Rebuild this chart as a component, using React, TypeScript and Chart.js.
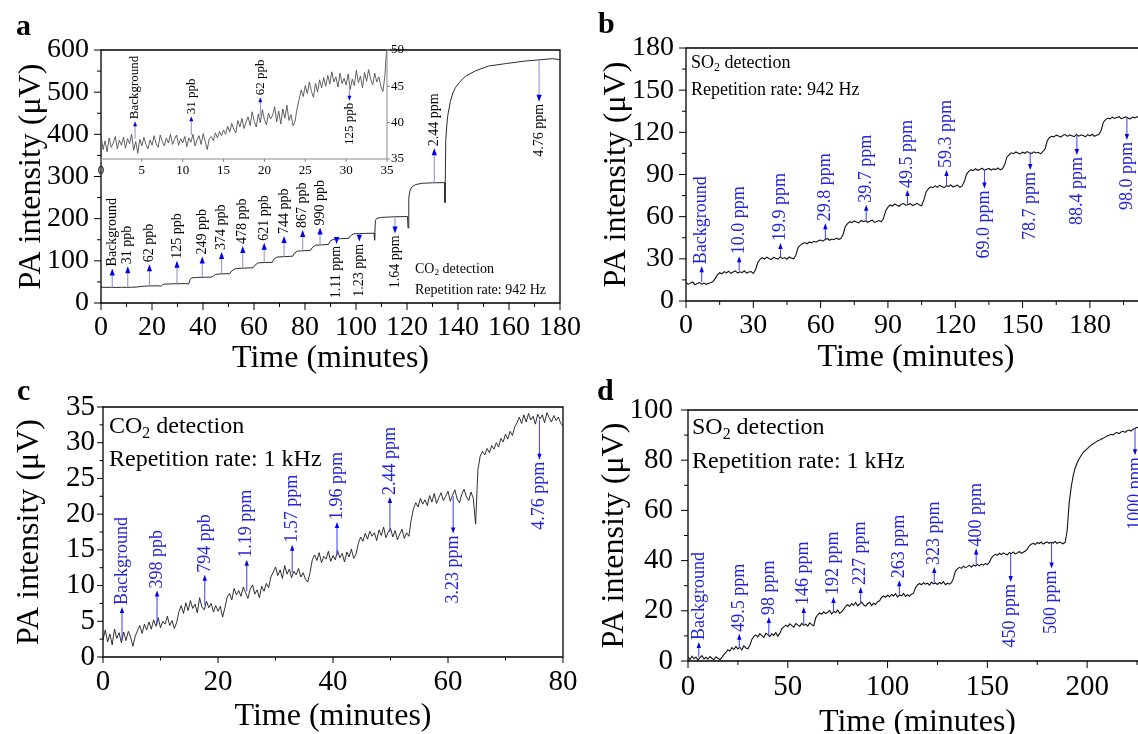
import React, { useEffect, useRef } from 'react';
import { Chart, registerables } from 'chart.js';

Chart.register(...registerables);

const FONT = '"Liberation Serif", "Times New Roman", Times, serif';
Chart.defaults.font.family = FONT;

// ================= DATA =================
// Panel a: CO2 detection, 942 Hz (time in minutes, PA intensity in µV)
const A_TIME = [0, 2, 4, 6, 8, 10, 12, 14, 16, 18, 20, 22, 23.6, 24.2, 25, 27, 29, 31, 33, 34.4, 34.9, 35.5, 37, 40, 43.5, 44.2, 45, 47, 50.5, 51.2, 52.5, 55, 59.6, 60.3, 61.5, 64, 67.2, 67.8, 69, 72, 75.2, 75.8, 77, 80, 82.2, 82.8, 84, 87, 89.2, 89.8, 91, 94, 97.2, 97.8, 99, 103, 107.1, 107.3, 107.6, 108.2, 110, 115, 120.2, 120.4, 120.7, 121.2, 122, 123.5, 126, 130, 134.7, 134.9, 135.2, 135.6, 136, 137, 138, 139, 140.5, 143, 147, 152, 159, 166.6, 174.5, 177, 180];
const A_SIGNAL = [37.5, 37, 37.2, 36.8, 37.3, 37, 37.4, 37.8, 39.5, 40.3, 40.6, 40.8, 40, 43.5, 44.8, 45.2, 45.6, 45.8, 46, 45, 55, 59.5, 60.5, 61, 61.5, 65, 68, 69, 69.5, 76, 81, 82.5, 83.5, 89, 95, 96, 96.5, 104, 109, 110, 111, 118, 123, 124, 125, 131, 137, 138, 139, 146, 151, 152.5, 153.5, 159, 164, 165, 165.5, 149, 196, 201, 203, 204.5, 205, 178, 250, 267, 276, 281, 284, 285, 285.5, 238, 385, 420, 445, 478, 498, 511, 523, 538, 551, 562, 568, 574, 578, 579.5, 577];
const A_X_TICKS = [0, 20, 40, 60, 80, 100, 120, 140, 160, 180];
const A_X_MINOR = [10, 30, 50, 70, 90, 110, 130, 150, 170];
const A_Y_TICKS = [0, 100, 200, 300, 400, 500, 600];
const A_Y_MINOR = [50, 150, 250, 350, 450, 550];
const A_ANN_TIME = [4.4, 10.5, 19, 29.8, 39.7, 47.3, 55.6, 64, 71.8, 79.1, 85.9, 92.4, 101.3, 115.3, 130.7, 171.8];
const A_ANN_FROM = [37, 37, 40, 45.5, 61, 69, 82.5, 96, 110, 124, 138, 152, 165, 204, 285, 577];
const A_ANN_TIP = [82, 87, 92, 100, 110, 121, 135, 143, 159, 173, 179, 140, 145, 165, 367, 477];
const A_ANN_LABEL = ['Background', '31 ppb', '62 ppb', '125 ppb', '249 ppb', '374 ppb', '478 ppb', '621 ppb', '744 ppb', '867 ppb', '990 ppb', '1.11 ppm', '1.23 ppm', '1.64 ppm', '2.44 ppm', '4.76 ppm'];

// Panel a inset: first 35 minutes (sampled every 0.25 min)
const INSET_T0 = 0;
const INSET_DT = 0.25;
const INSET_SIGNAL = [
  38.2, 36.3, 37.5, 36.0, 37.9, 36.6, 37.2, 38.1, 36.4, 37.6, 36.9, 38.0,
  36.5, 37.8, 37.1, 38.4, 36.2, 37.4, 35.8, 37.7, 36.8, 38.0, 37.0, 36.4,
  37.6, 36.9, 38.2, 37.1, 36.6, 38.3, 37.4, 36.8, 37.9, 37.2, 38.4, 37.0,
  37.7, 38.3, 36.9, 37.8, 37.2, 38.1, 36.7, 37.9, 37.3, 38.4, 36.8, 37.6,
  38.2, 37.0, 38.5, 37.4, 36.3, 37.8, 38.1, 37.5, 38.6, 37.9, 38.8, 38.2,
  39.0, 38.4, 39.5, 38.7, 39.9, 39.1, 38.6, 40.3, 39.4, 40.6, 39.2, 40.1,
  40.8, 39.6, 41.5, 40.2, 39.4, 41.2, 40.0, 41.8, 40.4, 39.7, 41.3, 40.5,
  41.0, 42.2, 40.1, 41.6, 39.8, 41.9, 40.6, 42.4, 40.3, 41.1, 39.6, 40.2,
  42.0, 43.2, 44.5, 43.6, 45.1, 44.0, 45.6, 44.3, 43.5, 45.4, 44.2, 45.9,
  44.8, 46.2, 45.0, 46.5, 45.3, 47.0, 45.6, 46.3, 44.9, 46.8, 45.4, 46.1,
  45.2, 46.7, 44.6, 46.0, 45.1, 47.2, 45.5, 46.4, 44.8, 46.9, 45.7, 47.3,
  46.0, 45.2, 46.8, 45.6, 46.3, 45.0, 44.3, 46.5, 51.0,
];
const INSET_X_TICKS = [0, 5, 10, 15, 20, 25, 30, 35];
const INSET_Y_TICKS = [35, 40, 45, 50];
const INSET_ANN_TIME = [4.17, 11.05, 19.5, 30.4];
const INSET_ANN_FROM = [37.8, 38.3, 41.0, 45.3];
const INSET_ANN_TIP = [40.2, 40.9, 43.5, 43.0];
const INSET_ANN_LABEL = ['Background', '31 ppb', '62 ppb', '125 ppb'];

// Panel b: SO2 detection, 942 Hz (sampled every 1 min)
const B_T0 = 0;
const B_DT = 1;
const B_SIGNAL = [
  13.2, 11.8, 12.9, 13.5, 11.6, 12.4, 13.1, 12.0, 12.8, 11.9,
  12.6, 13.0, 13.8, 15.9, 18.6, 20.1, 19.4, 20.9, 20.0, 21.2,
  19.7, 20.6, 21.4, 19.9, 20.8, 20.2, 21.5, 19.8, 20.7, 21.0,
  19.6, 22.3, 27.4, 29.6, 30.8, 29.9, 31.2, 30.3, 29.5, 31.0,
  30.4, 29.8, 31.5, 30.1, 30.9, 29.7, 31.3, 30.5, 30.0, 32.8,
  38.2, 39.8, 40.9, 41.6, 40.7, 42.0, 41.3, 42.5, 41.8, 42.9,
  43.4, 42.6, 43.8, 44.5, 43.2, 44.1, 43.6, 44.8, 43.9, 44.4,
  47.3, 53.0, 55.1, 56.4, 55.8, 57.0, 56.2, 55.6, 57.3, 56.5,
  57.1, 56.0, 56.8, 57.5, 55.9, 56.6, 57.2, 56.3, 58.6, 64.2,
  66.8, 68.3, 67.6, 69.0, 68.1, 67.4, 68.8, 69.3, 68.0, 68.6,
  69.2, 67.9, 68.7, 69.5, 68.3, 67.8, 71.9, 77.6, 79.8, 81.2,
  80.6, 81.9, 80.9, 82.3, 81.4, 80.7, 82.0, 81.6, 82.6, 81.1,
  81.8, 82.4, 80.9, 81.7, 84.8, 90.1, 92.2, 93.4, 92.8, 94.1,
  93.0, 93.7, 94.5, 92.9, 93.8, 94.3, 93.2, 94.0, 93.5, 94.6,
  93.3, 94.1, 96.9, 102.3, 104.1, 105.4, 104.8, 106.0, 105.2, 104.6,
  105.9, 105.1, 106.3, 105.5, 104.9, 106.1, 105.3, 105.8, 104.7, 106.2,
  108.2, 114.0, 116.3, 117.2, 116.8, 118.0, 117.4, 116.6, 117.9, 118.4,
  117.1, 118.2, 117.6, 116.9, 118.5, 117.3, 118.1, 117.7, 116.8, 118.3,
  117.5, 118.6, 117.2, 117.9, 118.4, 121.3, 127.2, 129.1, 130.2, 129.6,
  130.8, 129.9, 130.5, 131.1, 129.7, 130.4, 131.0, 130.1, 129.5, 130.9,
  130.3, 131.2, 129.8, 130.6, 130.0, 130.7,
];
const B_X_TICKS = [0, 30, 60, 90, 120, 150, 180];
const B_X_MINOR = [15, 45, 75, 105, 135, 165, 195];
const B_Y_TICKS = [0, 30, 60, 90, 120, 150, 180];
const B_Y_MINOR = [15, 45, 75, 105, 135, 165];
const B_ANN_TIME = [7.0, 23.7, 42.1, 62.1, 80.3, 98.7, 116.1, 133, 153.4, 174.2, 196.5];
const B_ANN_FROM = [13.5, 21.5, 31.5, 44, 57, 69, 82, 93.5, 105.5, 117.5, 130];
const B_ANN_TIP = [24.7, 31.8, 41.2, 55.4, 68.4, 79, 93.2, 80, 93.2, 103.8, 114.5];
const B_ANN_LABEL = ['Background', '10.0 ppm', '19.9 ppm', '29.8 ppm', '39.7 ppm', '49.5 ppm', '59.3 ppm', '69.0 ppm', '78.7 ppm', '88.4 ppm', '98.0 ppm'];

// Panel c: CO2 detection, 1 kHz (sampled every 0.4 min)
const C_T0 = 0;
const C_DT = 0.4;
const C_SIGNAL = [
  2.4, 3.8, 2.1, 3.2, 1.7, 3.9, 2.6, 3.4, 2.0, 3.5,
  2.3, 3.6, 2.8, 1.5, 2.9, 3.7, 4.4, 3.3, 4.6, 3.8,
  4.9, 3.9, 5.2, 4.3, 5.5, 4.1, 5.0, 4.6, 5.7, 4.4,
  5.1, 4.0, 4.8, 6.3, 7.2, 6.1, 7.6, 6.5, 7.9, 6.8,
  7.4, 6.2, 8.3, 7.0, 6.6, 7.8, 6.9, 7.5, 6.3, 7.2,
  6.4, 7.1, 5.6, 6.9, 8.4, 8.9, 8.0, 9.6, 8.7, 9.3,
  8.5, 9.8, 9.0, 8.2, 9.5, 10.1, 8.8, 9.4, 8.3, 9.9,
  9.2, 10.3, 9.7, 11.2, 11.9, 12.6, 11.4, 12.2, 11.0, 12.8,
  11.6, 12.3, 11.1, 12.0, 11.5, 12.4, 11.2, 11.8, 10.9, 10.5,
  11.8, 13.6, 14.3, 13.5, 14.6, 13.2, 14.1, 13.7, 14.8, 13.4,
  14.2, 13.6, 14.9, 13.9, 14.5, 13.3, 14.7, 14.0, 15.1, 13.8,
  14.4, 15.9, 16.8, 16.2, 17.3, 16.5, 17.6, 16.9, 17.4, 16.3,
  17.8, 17.0, 18.2, 16.7, 17.5, 18.0, 16.8, 17.7, 16.4, 17.2,
  17.9, 16.6, 17.4, 16.9, 19.2, 20.8, 21.6, 21.0, 22.2, 21.4,
  22.0, 21.2, 22.6, 21.7, 22.9, 21.5, 22.3, 23.0, 21.9, 22.5,
  23.2, 21.8, 22.7, 23.4, 22.1, 21.6, 22.8, 23.5, 22.4, 21.9,
  23.1, 22.2, 18.6, 26.2, 28.1, 28.8, 28.3, 29.2, 28.6, 29.6,
  29.1, 30.0, 29.4, 30.6, 30.1, 31.2, 30.5, 31.6, 31.0, 32.2,
  32.8, 33.6, 32.7, 33.9, 32.9, 34.1, 33.2, 33.7, 32.6, 34.0,
  33.3, 33.9, 32.8, 34.2, 33.5, 32.9, 33.8, 33.1, 33.6, 32.7, 32.4,
];
const C_X_TICKS = [0, 20, 40, 60, 80];
const C_X_MINOR = [10, 30, 50, 70];
const C_Y_TICKS = [0, 5, 10, 15, 20, 25, 30, 35];
const C_Y_MINOR = [2.5, 7.5, 12.5, 17.5, 22.5, 27.5, 32.5];
const C_ANN_TIME = [3.3, 9.4, 17.7, 25.0, 32.9, 40.7, 49.9, 60.9, 75.9];
const C_ANN_FROM = [2.3, 4.5, 7.3, 9.2, 11.8, 14.2, 17.5, 22.5, 33.2];
const C_ANN_TIP = [7.0, 9.3, 11.5, 13.6, 15.7, 18.9, 22.4, 17.3, 27.6];
const C_ANN_LABEL = ['Background', '398 ppb', '794 ppb', '1.19 ppm', '1.57 ppm', '1.96 ppm', '2.44 ppm', '3.23 ppm', '4.76 ppm'];

// Panel d: SO2 detection, 1 kHz (sampled every 1 min)
const D_T0 = 0;
const D_DT = 1;
const D_SIGNAL = [
  1.4, 0.6, 1.9, 0.9, 1.6, 0.4, 1.3, 2.1, 0.8, 1.5,
  0.7, 1.8, 1.1, 0.5, 1.7, 1.0, 0.6, 1.4, 2.6, 3.4,
  4.5, 4.0, 5.3, 4.6, 5.8, 4.8, 5.5, 4.4, 6.1, 5.2,
  4.9, 6.3, 8.6, 9.8, 10.4, 9.6, 10.9, 10.1, 9.4, 11.0,
  10.5, 9.7, 10.8, 10.2, 11.3, 9.9, 11.0, 12.8, 13.6, 14.3,
  13.7, 14.8, 14.1, 13.5, 14.9, 14.4, 13.8, 15.0, 14.2, 14.7,
  13.9, 15.2, 14.5, 14.0, 17.2, 18.4, 19.1, 18.6, 19.6, 18.9,
  19.4, 20.1, 18.7, 19.8, 19.2, 20.3, 19.0, 19.7, 20.6, 21.8,
  22.4, 21.7, 22.9, 22.2, 23.3, 22.0, 22.7, 23.5, 22.3, 21.9,
  22.8, 23.4, 22.1, 23.0, 22.5, 23.6, 24.0, 25.3, 25.9, 25.4,
  26.2, 25.6, 26.5, 25.9, 26.8, 25.5, 26.3, 26.0, 26.9, 25.7,
  26.4, 25.8, 26.6, 27.0, 29.2, 30.3, 30.9, 30.4, 31.2, 30.6,
  31.0, 30.2, 31.4, 30.7, 31.1, 30.5, 31.3, 30.8, 31.6, 30.4,
  31.0, 30.6, 31.2, 32.9, 35.8, 36.7, 37.3, 36.9, 37.8, 37.2,
  37.6, 38.1, 37.4, 38.3, 37.8, 38.5, 37.9, 38.6, 38.2, 38.8,
  38.4, 39.3, 41.0, 41.9, 42.5, 42.1, 42.9, 42.4, 43.1, 42.6,
  42.3, 43.2, 42.8, 43.4, 42.7, 43.0, 43.6, 42.9, 43.3, 43.8,
  44.6, 45.9, 46.5, 46.9, 46.4, 47.2, 46.8, 47.4, 46.6, 47.1,
  47.5, 46.9, 47.3, 47.0, 47.6, 46.8, 47.4, 47.1, 46.7, 47.3,
  52.0, 63.0, 69.2, 73.8, 76.9, 79.0, 80.6, 81.9, 83.0, 83.8,
  84.5, 85.3, 85.9, 86.6, 87.0, 87.6, 87.9, 88.4, 88.7, 89.2,
  89.6, 89.9, 90.3, 90.1, 90.7, 91.0, 90.6, 91.2, 91.5, 91.1,
  91.7, 92.0, 91.6, 92.3, 92.6, 93.1, 92.8, 93.4, 93.0,
];
const D_X_TICKS = [0, 50, 100, 150, 200];
const D_X_MINOR = [25, 75, 125, 175, 225];
const D_Y_TICKS = [0, 20, 40, 60, 80, 100];
const D_Y_MINOR = [10, 30, 50, 70, 90];
const D_ANN_TIME = [5.4, 25.7, 40.5, 58.0, 72.9, 86.5, 105.9, 123.4, 144.4, 161.7, 182.2, 224];
const D_ANN_FROM = [1.5, 5.2, 10.3, 14.5, 19.5, 22.8, 26.2, 31.0, 38.3, 42.6, 47.1, 92.6];
const D_ANN_TIP = [7.6, 10.9, 17.5, 21.5, 25.5, 29.5, 32.2, 37.5, 44.8, 31.5, 36.9, 82];
const D_ANN_LABEL = ['Background', '49.5 ppm', '98 ppm', '146 ppm', '192 ppm', '227 ppm', '263 ppm', '323 ppm', '400 ppm', '450 ppm', '500 ppm', '1000 ppm'];

const X_TITLE = 'Time (minutes)';
const Y_TITLE = 'PA intensity (μV)';

// ================= HELPERS =================
type Pt = { x: number; y: number };
const pairs = (t: number[], v: number[]): Pt[] => t.map((x, i) => ({ x, y: v[i] }));
const sampled = (t0: number, dt: number, v: number[]): Pt[] =>
  v.map((y, i) => ({ x: Math.round((t0 + i * dt) * 1000) / 1000, y }));

interface Ann { time: number[]; from: number[]; tip: number[]; label: string[] }
interface NotePart { t: string; sub?: boolean }
interface Note { dx: number; dy: number; parts: NotePart[] }

interface Spec {
  key: string;
  left: number; top: number; width: number; height: number;
  pad: { top: number; left: number; right: number; bottom: number };
  yWidth: number; xHeight: number; yPos: 'left' | 'right';
  xMin: number; xMax: number; yMin: number; yMax: number;
  xTicks: number[]; yTicks: number[]; xMinor: number[]; yMinor: number[];
  tickFont: number; tickLen: number; minorLen: number; xPad: number; yPad: number;
  xTitle?: string; yTitle?: string; titleFont: number; xTitlePad: number; yTitlePad: number;
  frame: boolean; axisColor: string; axisWidth: number;
  points: Pt[]; lineColor: string; lineWidth: number;
  ann: Ann; annFont: number; annText: string; annLine: string; annHead: string;
  headLen: number; headHalf: number; annGap: number;
  notes: Note[]; noteFont: number;
}

function decorPlugin(s: Spec) {
  return {
    id: 'decor_' + s.key,
    afterDatasetsDraw(chart: any) {
      const { ctx, chartArea: ca } = chart;
      const xs = chart.scales.x;
      const ys = chart.scales.y;
      ctx.save();
      // frame
      ctx.strokeStyle = s.axisColor;
      ctx.lineWidth = s.axisWidth;
      ctx.beginPath();
      if (s.frame) {
        ctx.rect(ca.left, ca.top, ca.right - ca.left, ca.bottom - ca.top);
      } else {
        ctx.moveTo(ca.left, ca.bottom);
        ctx.lineTo(ca.right, ca.bottom);
        ctx.lineTo(ca.right, ca.top);
      }
      ctx.stroke();
      // ticks (outward)
      ctx.lineWidth = 1;
      ctx.beginPath();
      const xt = (v: number, len: number) => {
        const p = xs.getPixelForValue(v);
        if (p < ca.left - 1 || p > ca.right + 1) return;
        ctx.moveTo(p, ca.bottom);
        ctx.lineTo(p, ca.bottom + len);
      };
      const yEdge = s.yPos === 'left' ? ca.left : ca.right;
      const yDir = s.yPos === 'left' ? -1 : 1;
      const yt = (v: number, len: number) => {
        const p = ys.getPixelForValue(v);
        if (p < ca.top - 1 || p > ca.bottom + 1) return;
        ctx.moveTo(yEdge, p);
        ctx.lineTo(yEdge + yDir * len, p);
      };
      s.xTicks.forEach((v) => xt(v, s.tickLen));
      s.xMinor.forEach((v) => xt(v, s.minorLen));
      s.yTicks.forEach((v) => yt(v, s.tickLen));
      s.yMinor.forEach((v) => yt(v, s.minorLen));
      ctx.stroke();

      // annotations (arrow + rotated label)
      const a = s.ann;
      for (let i = 0; i < a.time.length; i++) {
        const px = xs.getPixelForValue(a.time[i]);
        const p0 = ys.getPixelForValue(a.from[i]);
        const p1 = ys.getPixelForValue(a.tip[i]);
        const up = p1 < p0;
        const dir = up ? -1 : 1;
        ctx.strokeStyle = s.annLine;
        ctx.lineWidth = 1;
        ctx.beginPath();
        ctx.moveTo(px, p0);
        ctx.lineTo(px, p1 - dir * s.headLen * 0.6);
        ctx.stroke();
        ctx.fillStyle = s.annHead;
        ctx.beginPath();
        ctx.moveTo(px, p1);
        ctx.lineTo(px - s.headHalf, p1 - dir * s.headLen);
        ctx.lineTo(px + s.headHalf, p1 - dir * s.headLen);
        ctx.closePath();
        ctx.fill();
        ctx.save();
        ctx.translate(px, p1 + dir * s.annGap);
        ctx.rotate(-Math.PI / 2);
        ctx.font = `${s.annFont}px ${FONT}`;
        ctx.fillStyle = s.annText;
        ctx.textBaseline = 'middle';
        ctx.textAlign = up ? 'left' : 'right';
        ctx.fillText(a.label[i], 0, 0);
        ctx.restore();
      }

      // notes with subscripts
      ctx.fillStyle = '#000';
      ctx.textBaseline = 'middle';
      ctx.textAlign = 'left';
      for (const n of s.notes) {
        let x = ca.left + n.dx;
        const y = ca.top + n.dy;
        for (const part of n.parts) {
          const size = part.sub ? s.noteFont * 0.66 : s.noteFont;
          ctx.font = `${size}px ${FONT}`;
          ctx.fillText(part.t, x, part.sub ? y + s.noteFont * 0.28 : y);
          x += ctx.measureText(part.t).width;
        }
      }
      ctx.restore();
    },
  };
}

function makeConfig(s: Spec): any {
  const tickFont = { family: FONT, size: s.tickFont };
  const titleFont = { family: FONT, size: s.titleFont, lineHeight: 1 };
  return {
    type: 'line',
    data: {
      datasets: [
        {
          data: s.points,
          borderColor: s.lineColor,
          borderWidth: s.lineWidth,
          pointRadius: 0,
          pointHoverRadius: 0,
          tension: 0,
          fill: false,
        },
      ],
    },
    options: {
      animation: false,
      responsive: false,
      maintainAspectRatio: false,
      devicePixelRatio: 1,
      events: [],
      layout: { padding: s.pad },
      plugins: { legend: { display: false }, tooltip: { enabled: false } },
      scales: {
        x: {
          type: 'linear',
          position: 'bottom',
          min: s.xMin,
          max: s.xMax,
          afterBuildTicks: (sc: any) => {
            sc.ticks = s.xTicks.map((v) => ({ value: v }));
          },
          afterFit: (sc: any) => {
            sc.height = s.xHeight;
          },
          grid: { display: false, drawTicks: true, tickLength: s.tickLen },
          border: { display: false },
          ticks: { font: tickFont, color: '#000', padding: s.xPad, maxRotation: 0, minRotation: 0, autoSkip: false },
          title: s.xTitle
            ? { display: true, text: s.xTitle, color: '#000', font: titleFont, padding: { top: 0, bottom: s.xTitlePad } }
            : { display: false },
        },
        y: {
          type: 'linear',
          position: s.yPos,
          min: s.yMin,
          max: s.yMax,
          afterBuildTicks: (sc: any) => {
            sc.ticks = s.yTicks.map((v) => ({ value: v }));
          },
          afterFit: (sc: any) => {
            sc.width = s.yWidth;
          },
          grid: { display: false, drawTicks: true, tickLength: s.tickLen },
          border: { display: false },
          ticks: { font: tickFont, color: '#000', padding: s.yPad, autoSkip: false },
          title: s.yTitle
            ? { display: true, text: s.yTitle, color: '#000', font: titleFont, padding: { top: s.yTitlePad, bottom: 0 } }
            : { display: false },
        },
      },
    },
    plugins: [decorPlugin(s)],
  };
}

const BLUE_TEXT = '#2323dc';
const BLUE_LINE = '#3c3cf5';
const BLUE_HEAD = '#0000ee';
const co2 = [{ t: 'CO' }, { t: '2', sub: true }, { t: ' detection' }];
const so2 = [{ t: 'SO' }, { t: '2', sub: true }, { t: ' detection' }];

const SPECS: Spec[] = [
  {
    key: 'a',
    left: 0, top: 0, width: 585, height: 378,
    pad: { top: 50, left: 0, right: 25, bottom: 0 },
    yWidth: 101, xHeight: 75, yPos: 'left',
    xMin: 0, xMax: 180, yMin: 0, yMax: 600,
    xTicks: A_X_TICKS, yTicks: A_Y_TICKS, xMinor: A_X_MINOR, yMinor: A_Y_MINOR,
    tickFont: 28, tickLen: 7, minorLen: 4, xPad: 1, yPad: 5,
    xTitle: X_TITLE, yTitle: Y_TITLE, titleFont: 32, xTitlePad: 3, yTitlePad: 16,
    frame: true, axisColor: '#000', axisWidth: 1.3,
    points: pairs(A_TIME, A_SIGNAL), lineColor: '#2b2b2b', lineWidth: 1,
    ann: { time: A_ANN_TIME, from: A_ANN_FROM, tip: A_ANN_TIP, label: A_ANN_LABEL },
    annFont: 14, annText: '#000', annLine: '#8e8ec8', annHead: BLUE_HEAD, headLen: 7, headHalf: 2.6, annGap: 2,
    notes: [
      { dx: 314, dy: 219, parts: co2 },
      { dx: 314, dy: 240, parts: [{ t: 'Repetition rate: 942 Hz' }] },
    ],
    noteFont: 14,
  },
  {
    key: 'inset',
    left: 0, top: 0, width: 430, height: 190,
    pad: { top: 50, left: 101, right: 0, bottom: 0 },
    yWidth: 43, xHeight: 31, yPos: 'right',
    xMin: 0, xMax: 35, yMin: 35, yMax: 50,
    xTicks: INSET_X_TICKS, yTicks: INSET_Y_TICKS, xMinor: [], yMinor: [],
    tickFont: 13, tickLen: 3, minorLen: 2, xPad: 1, yPad: 1,
    titleFont: 13, xTitlePad: 0, yTitlePad: 0,
    frame: false, axisColor: '#8a8a8a', axisWidth: 1,
    points: sampled(INSET_T0, INSET_DT, INSET_SIGNAL), lineColor: '#505050', lineWidth: 0.9,
    ann: { time: INSET_ANN_TIME, from: INSET_ANN_FROM, tip: INSET_ANN_TIP, label: INSET_ANN_LABEL },
    annFont: 13, annText: '#000', annLine: '#8e8ec8', annHead: BLUE_HEAD, headLen: 5, headHalf: 2, annGap: 2,
    notes: [], noteFont: 13,
  },
  {
    key: 'b',
    left: 590, top: 0, width: 582, height: 378,
    pad: { top: 48, left: 0, right: 26, bottom: 0 },
    yWidth: 96, xHeight: 77, yPos: 'left',
    xMin: 0, xMax: 205, yMin: 0, yMax: 180,
    xTicks: B_X_TICKS, yTicks: B_Y_TICKS, xMinor: B_X_MINOR, yMinor: B_Y_MINOR,
    tickFont: 28, tickLen: 7, minorLen: 4, xPad: 1, yPad: 5,
    xTitle: X_TITLE, yTitle: Y_TITLE, titleFont: 32, xTitlePad: 4, yTitlePad: 11,
    frame: true, axisColor: '#000', axisWidth: 1.3,
    points: sampled(B_T0, B_DT, B_SIGNAL), lineColor: '#111', lineWidth: 1.1,
    ann: { time: B_ANN_TIME, from: B_ANN_FROM, tip: B_ANN_TIP, label: B_ANN_LABEL },
    annFont: 18, annText: BLUE_TEXT, annLine: BLUE_LINE, annHead: BLUE_HEAD, headLen: 6, headHalf: 2.2, annGap: 2,
    notes: [
      { dx: 5, dy: 15, parts: so2 },
      { dx: 5, dy: 42, parts: [{ t: 'Repetition rate: 942 Hz' }] },
    ],
    noteFont: 18,
  },
  {
    key: 'c',
    left: 0, top: 370, width: 590, height: 364,
    pad: { top: 37, left: 0, right: 27, bottom: 0 },
    yWidth: 103, xHeight: 77, yPos: 'left',
    xMin: 0, xMax: 80, yMin: 0, yMax: 35,
    xTicks: C_X_TICKS, yTicks: C_Y_TICKS, xMinor: C_X_MINOR, yMinor: C_Y_MINOR,
    tickFont: 29, tickLen: 6, minorLen: 3.5, xPad: 2, yPad: 2,
    xTitle: X_TITLE, yTitle: Y_TITLE, titleFont: 32, xTitlePad: 1, yTitlePad: 14,
    frame: true, axisColor: '#000', axisWidth: 1.3,
    points: sampled(C_T0, C_DT, C_SIGNAL), lineColor: '#1a1a1a', lineWidth: 0.9,
    ann: { time: C_ANN_TIME, from: C_ANN_FROM, tip: C_ANN_TIP, label: C_ANN_LABEL },
    annFont: 18, annText: BLUE_TEXT, annLine: BLUE_LINE, annHead: BLUE_HEAD, headLen: 6, headHalf: 2.2, annGap: 2,
    notes: [
      { dx: 6, dy: 20, parts: co2 },
      { dx: 6, dy: 53, parts: [{ t: 'Repetition rate: 1 kHz' }] },
    ],
    noteFont: 24,
  },
  {
    key: 'd',
    left: 590, top: 370, width: 583, height: 372,
    pad: { top: 40, left: 0, right: 26, bottom: 0 },
    yWidth: 98, xHeight: 81, yPos: 'left',
    xMin: 0, xMax: 230, yMin: 0, yMax: 100,
    xTicks: D_X_TICKS, yTicks: D_Y_TICKS, xMinor: D_X_MINOR, yMinor: D_Y_MINOR,
    tickFont: 29, tickLen: 7, minorLen: 4, xPad: 2, yPad: 8,
    xTitle: X_TITLE, yTitle: Y_TITLE, titleFont: 32, xTitlePad: 3, yTitlePad: 9,
    frame: true, axisColor: '#000', axisWidth: 1.3,
    points: sampled(D_T0, D_DT, D_SIGNAL), lineColor: '#111', lineWidth: 1.1,
    ann: { time: D_ANN_TIME, from: D_ANN_FROM, tip: D_ANN_TIP, label: D_ANN_LABEL },
    annFont: 18, annText: BLUE_TEXT, annLine: BLUE_LINE, annHead: BLUE_HEAD, headLen: 6, headHalf: 2.2, annGap: 2,
    notes: [
      { dx: 4, dy: 18, parts: so2 },
      { dx: 4, dy: 52, parts: [{ t: 'Repetition rate: 1 kHz' }] },
    ],
    noteFont: 24,
  },
];

const LETTERS = [
  { t: 'a', x: 16, y: 10 },
  { t: 'b', x: 598, y: 8 },
  { t: 'c', x: 17, y: 375 },
  { t: 'd', x: 597, y: 375 },
];

function Panel({ s }: { s: Spec }) {
  const ref = useRef<HTMLCanvasElement | null>(null);
  useEffect(() => {
    if (!ref.current) return;
    const chart = new Chart(ref.current, makeConfig(s));
    return () => chart.destroy();
  }, [s]);
  return (
    <canvas
      ref={ref}
      width={s.width}
      height={s.height}
      style={{ position: 'absolute', left: s.left, top: s.top, width: s.width, height: s.height }}
    />
  );
}

export default function App() {
  return (
    <div
      style={{
        position: 'fixed', left: 0, top: 0, width: 1138, height: 734,
        overflow: 'hidden', background: '#fff',
      }}
    >
      {SPECS.map((s) => (
        <Panel key={s.key} s={s} />
      ))}
      {LETTERS.map((l) => (
        <div
          key={l.t}
          style={{
            position: 'absolute', left: l.x, top: l.y, fontFamily: FONT,
            fontWeight: 'bold', fontSize: 30, lineHeight: '30px', color: '#000',
          }}
        >
          {l.t}
        </div>
      ))}
    </div>
  );
}
